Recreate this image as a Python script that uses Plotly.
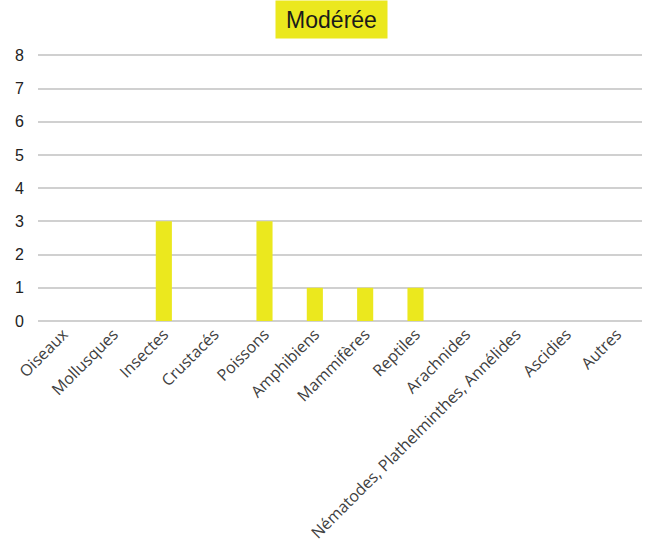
import plotly.graph_objects as go

categories = ["Oiseaux", "Mollusques", "Insectes", "Crustacés", "Poissons", "Amphibiens",
              "Mammifères", "Reptiles", "Arachnides", "Nématodes, Plathelminthes, Annélides",
              "Ascidies", "Autres"]
values = [0, 0, 3, 0, 3, 1, 1, 1, 0, 0, 0, 0]
y_ticks = [0, 1, 2, 3, 4, 5, 6, 7, 8]
title_text = "Modérée"

fig = go.Figure(go.Bar(x=categories, y=values, marker=dict(color="#EBE81E", line=dict(width=0)),
                       width=0.32))

fig.update_layout(
    width=648, height=546,
    margin=dict(l=38, r=6, t=52, b=225),
    paper_bgcolor="white", plot_bgcolor="white",
    showlegend=False,
    annotations=[dict(text=title_text, xref="paper", yref="paper", x=0.486, y=1, yshift=33,
                      xanchor="center", yanchor="middle", showarrow=False,
                      font=dict(family="Liberation Sans, Arial", size=23, color="#1a1a1a"),
                      bgcolor="#EBE81E", borderpad=2, width=107, height=33)],
)
fig.update_xaxes(tickangle=-45, tickfont=dict(family="Open Sans", size=16, color="#404040"),
                 showgrid=False, showline=False, ticks="", automargin=False)
fig.update_yaxes(range=[0, 8.1], tickvals=y_ticks, showgrid=True, gridcolor="#d0d0d0", gridwidth=1.5,
                 zeroline=True, zerolinecolor="#d0d0d0", zerolinewidth=1.5, automargin=False,
                 tickfont=dict(family="Liberation Sans, Arial", size=16, color="#222222"),
                 ticks="outside", ticklen=10, tickcolor="white")

fig.write_html("out.html")
